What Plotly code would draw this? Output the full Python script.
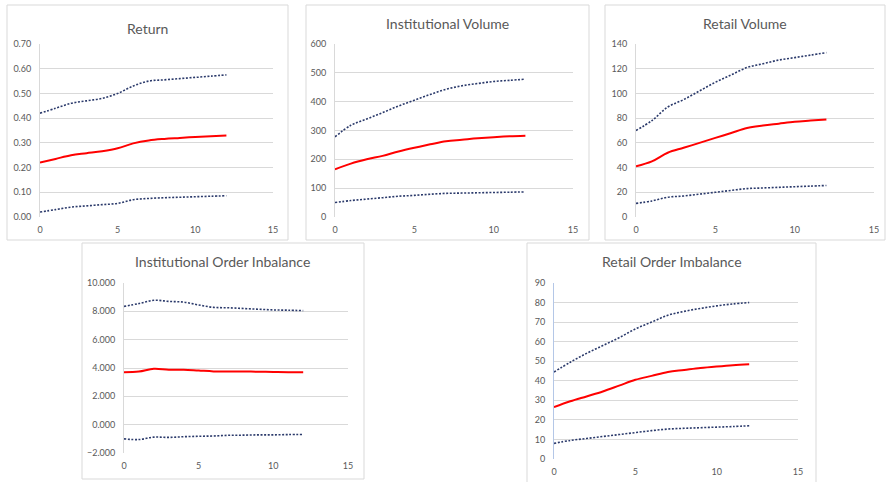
import plotly.graph_objects as go

W, H = 886, 482
x_vals = list(range(13))

# ---- data ----
ret_mid = [0.22, 0.235, 0.25, 0.258, 0.266, 0.278, 0.298, 0.31, 0.316, 0.32, 0.324, 0.327, 0.33]
ret_up = [0.42, 0.44, 0.46, 0.47, 0.48, 0.50, 0.53, 0.55, 0.555, 0.56, 0.565, 0.57, 0.575]
ret_lo = [0.02, 0.03, 0.04, 0.045, 0.05, 0.055, 0.07, 0.075, 0.078, 0.08, 0.082, 0.084, 0.086]

iv_mid = [165, 185, 200, 212, 227, 240, 252, 263, 268, 273, 277, 280, 282]
iv_up = [278, 318, 340, 362, 385, 405, 425, 443, 455, 463, 470, 474, 478]
iv_lo = [50, 57, 62, 67, 72, 75, 79, 82, 83, 84, 85, 86, 87]

rv_mid = [41, 45, 52, 56, 60, 64, 68, 72, 74, 75.5, 77, 78, 79]
rv_up = [70, 78, 89, 95, 102, 109, 115, 121, 124, 127, 129, 131, 133]
rv_lo = [11, 13, 16, 17, 18.5, 20, 21.5, 23, 23.5, 24, 24.5, 25, 25.5]

ioi_mid = [3.7, 3.75, 3.95, 3.88, 3.88, 3.82, 3.76, 3.76, 3.75, 3.74, 3.72, 3.70, 3.70]
ioi_up = [8.35, 8.55, 8.78, 8.70, 8.65, 8.45, 8.28, 8.25, 8.20, 8.15, 8.10, 8.08, 8.05]
ioi_lo = [-1.0, -1.05, -0.88, -0.9, -0.85, -0.82, -0.80, -0.75, -0.74, -0.72, -0.72, -0.70, -0.70]

roi_mid = [26.5, 29.5, 32, 34.5, 37.5, 40.5, 42.5, 44.5, 45.5, 46.5, 47.3, 48, 48.5]
roi_up = [44.5, 49.5, 54, 58, 62, 66.5, 70, 73.5, 75.5, 77, 78.3, 79.3, 80]
roi_lo = [8, 9.5, 10.5, 11.5, 12.5, 13.5, 14.5, 15.3, 15.7, 16, 16.3, 16.6, 17]

titles = ["Return", "Institutional Volume", "Retail Volume",
          "Institutional Order Inbalance", "Retail Order Imbalance"]

# ---- layout (pixel positions) ----
panels = [
    dict(px=(40, 273), py=(44, 217), box=(7, 5, 288, 240), ty=28, yr=(0, 0.7), dt=0.1, fmt=".2f",
         data=(ret_up, ret_mid, ret_lo)),
    dict(px=(335, 573), py=(44, 217), box=(306, 5, 589, 240), ty=23, yr=(0, 600), dt=100, fmt="d",
         data=(iv_up, iv_mid, iv_lo)),
    dict(px=(636, 874), py=(44, 217), box=(605, 5, 885, 240), ty=23, yr=(0, 140), dt=20, fmt="d",
         data=(rv_up, rv_mid, rv_lo)),
    dict(px=(124, 348), py=(283, 453), box=(82, 243, 364, 479), ty=261, yr=(-2, 10), dt=2, fmt=".3f",
         data=(ioi_up, ioi_mid, ioi_lo)),
    dict(px=(554, 798), py=(283, 459), box=(527, 243, 816, 490), ty=261, yr=(0, 90), dt=10, fmt="d",
         data=(roi_up, roi_mid, roi_lo)),
]

fig = go.Figure()
GRID = "#d9d9d9"
TXT = "#595959"
FONT = "Lato"
NAVY = "#2b3a6b"
DOTS = "2px,1.6px"

for i, p in enumerate(panels):
    n = "" if i == 0 else str(i + 1)
    xa, ya = "x" + n, "y" + n
    up, mid, lo = p["data"]
    fig.add_trace(go.Scatter(x=x_vals, y=up, mode="lines", line=dict(color=NAVY, width=1.6, dash=DOTS, shape="spline"),
                             xaxis=xa, yaxis=ya, showlegend=False, hoverinfo="skip"))
    fig.add_trace(go.Scatter(x=x_vals, y=lo, mode="lines", line=dict(color=NAVY, width=1.6, dash=DOTS, shape="spline"),
                             xaxis=xa, yaxis=ya, showlegend=False, hoverinfo="skip"))
    fig.add_trace(go.Scatter(x=x_vals, y=mid, mode="lines", line=dict(color="#ff0000", width=2, shape="spline"),
                             xaxis=xa, yaxis=ya, showlegend=False, hoverinfo="skip"))
    x0, x1 = p["px"]
    yt, yb = p["py"]
    fig.layout["xaxis" + n] = dict(domain=[x0 / W, x1 / W], range=[0, 15], dtick=5, tick0=0,
                                   showgrid=False, zeroline=False, showline=False, automargin=False,
                                   tickfont=dict(size=9, color=TXT, family=FONT), anchor=ya, ticks="",
                                   ticklabelstandoff=6)
    fig.layout["yaxis" + n] = dict(domain=[1 - yb / H, 1 - yt / H], range=list(p["yr"]), dtick=p["dt"], tick0=p["yr"][0],
                                   showgrid=True, gridcolor=GRID, gridwidth=1, zeroline=False, automargin=False,
                                   showline=True, linecolor=GRID if i != 4 else "#b4c7e7", linewidth=1,
                                   tickformat=p["fmt"], tickfont=dict(size=9, color=TXT, family=FONT),
                                   anchor=xa, ticks="", ticklabelstandoff=6)
    l, t, r, b = p["box"]
    fig.add_shape(type="rect", xref="paper", yref="paper", x0=l / W, x1=r / W, y0=1 - b / H, y1=1 - t / H,
                  line=dict(color=GRID, width=1), fillcolor="rgba(0,0,0,0)", layer="below")
    fig.add_annotation(text=titles[i], xref="paper", yref="paper", x=((l + r) / 2) / W, y=1 - p["ty"] / H,
                       showarrow=False, xanchor="center", yanchor="middle",
                       font=dict(size=14, color=TXT, family=FONT))

fig.update_layout(template="none", width=W, height=H, margin=dict(l=0, r=0, t=0, b=0, pad=0),
                  paper_bgcolor="white", plot_bgcolor="white", showlegend=False)

fig.write_html("out.html", config={"displayModeBar": False},
               post_script="document.body.style.margin='0';document.body.style.padding='0';")
